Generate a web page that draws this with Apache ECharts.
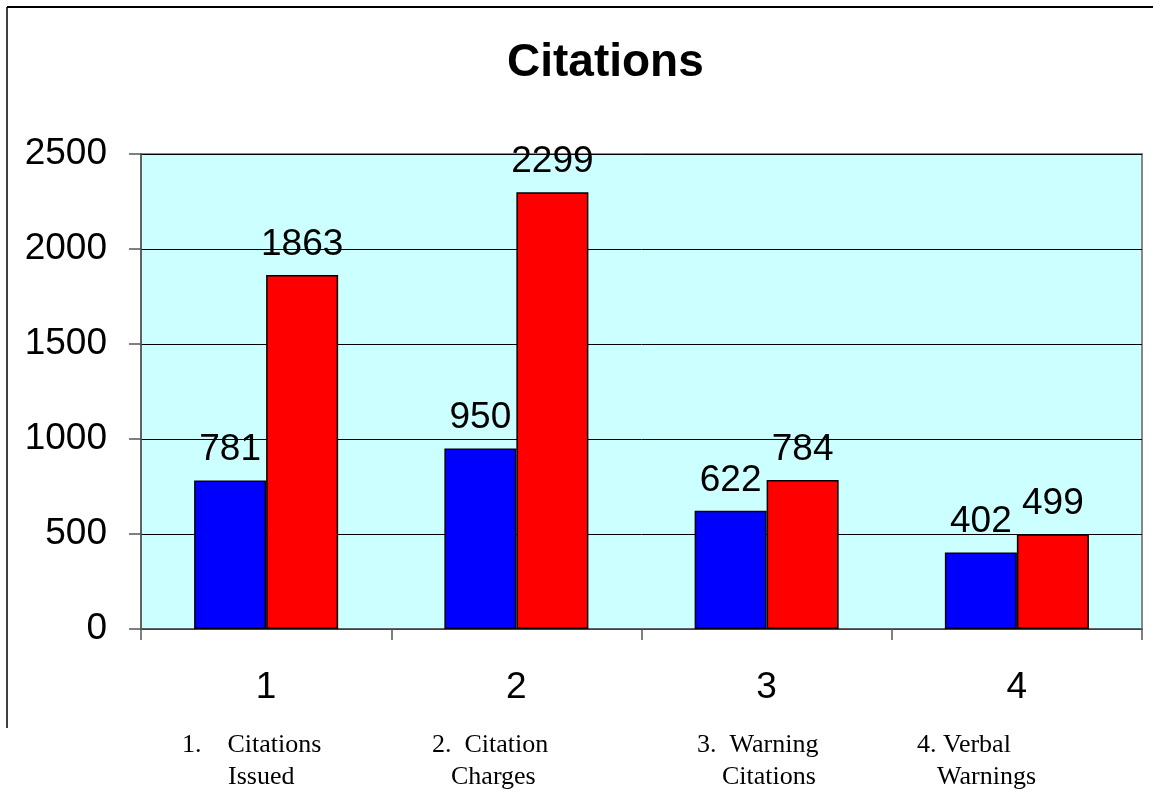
<!DOCTYPE html>
<html>
<head>
<meta charset="utf-8">
<script src="https://cdn.jsdelivr.net/npm/echarts@6/dist/echarts.min.js"></script>
<style>html,body{margin:0;padding:0;background:#fff}#c{width:1153px;height:798px}</style>
</head>
<body>
<div id="c"></div>
<script>
var categories = ['1', '2', '3', '4'];
var seriesA = [781, 950, 622, 402];
var seriesB = [1863, 2299, 784, 499];
var yTicks = [0, 500, 1000, 1500, 2000, 2500];
var noteLine1 = ['1.    Citations', '2.  Citation', '3.  Warning', '4. Verbal'];
var noteLine2 = ['Issued', 'Charges', 'Citations', 'Warnings'];

var noteX1 = [182, 432, 697, 917];
var noteX2 = [228, 451, 722, 937];

var chart = echarts.init(document.getElementById('c'), null, {renderer: 'canvas'});
var graphics = [
  {type: 'line', shape: {x1: 7, y1: 7, x2: 1153, y2: 7}, style: {stroke: '#000', lineWidth: 2}, z: 10},
  {type: 'line', shape: {x1: 7, y1: 7, x2: 7, y2: 728}, style: {stroke: '#000', lineWidth: 1.5}, z: 10}
];
for (var i = 0; i < noteLine1.length; i++) {
  graphics.push({type: 'text', left: noteX1[i], top: 732, style: {text: noteLine1[i], font: '26px "Liberation Serif", "Times New Roman", serif', fill: '#000'}});
  graphics.push({type: 'text', left: noteX2[i], top: 764, style: {text: noteLine2[i], font: '26px "Liberation Serif", "Times New Roman", serif', fill: '#000'}});
}

var labelStyle = {show: true, position: 'top', distance: 12, color: '#000', fontSize: 37, fontFamily: '"Liberation Sans", Arial, sans-serif'};

chart.setOption({
  animation: false,
  title: {
    text: 'Citations', left: 502, top: 35,
    textStyle: {fontSize: 46, fontWeight: 'bold', color: '#000', fontFamily: '"Liberation Sans", Arial, sans-serif'}
  },
  grid: {
    left: 141, right: 11, top: 154, bottom: 169,
    show: true, backgroundColor: '#CCFFFF', borderColor: '#888', borderWidth: 2
  },
  xAxis: {
    type: 'category', data: categories,
    axisLine: {show: true, lineStyle: {color: '#555', width: 1.5}},
    axisTick: {show: true, length: 11, lineStyle: {color: '#555', width: 1.5}},
    axisLabel: {margin: 40, color: '#000', fontSize: 37, fontFamily: '"Liberation Sans", Arial, sans-serif'}
  },
  yAxis: {
    type: 'value', min: yTicks[0], max: yTicks[yTicks.length - 1], interval: 500,
    axisLine: {show: true, lineStyle: {color: '#555', width: 1.5}},
    axisTick: {show: true, length: 12, lineStyle: {color: '#555', width: 1.5}},
    axisLabel: {margin: 34, color: '#000', fontSize: 37, fontFamily: '"Liberation Sans", Arial, sans-serif',
      formatter: function (v) { return String(v); }},
    splitLine: {show: true, lineStyle: {color: '#000', width: 1}}
  },
  series: [
    {type: 'bar', data: seriesA, barWidth: 72, barGap: '0%',
     itemStyle: {color: '#0000FF', borderColor: '#000', borderWidth: 1.5}, label: labelStyle},
    {type: 'bar', data: seriesB, barWidth: 72, barGap: '0%',
     itemStyle: {color: '#FF0000', borderColor: '#000', borderWidth: 1.5}, label: labelStyle}
  ],
  graphic: graphics
});
</script>
</body>
</html>
